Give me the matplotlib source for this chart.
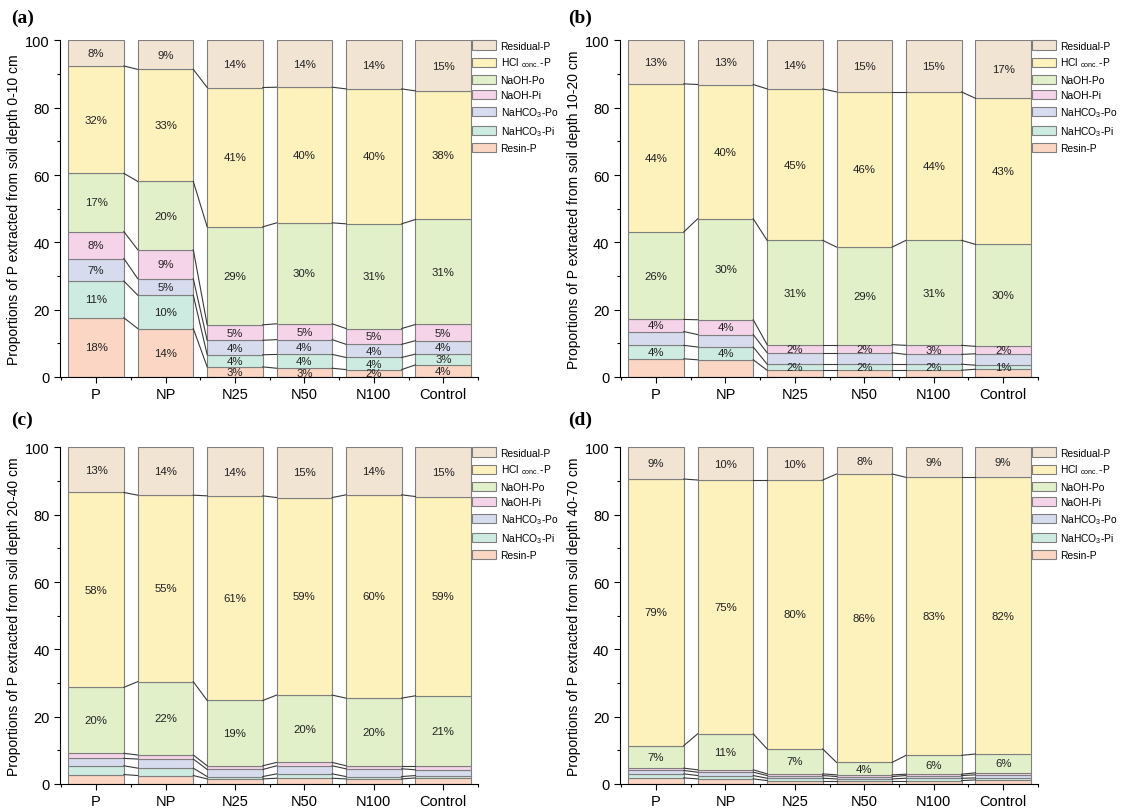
import numpy as np
import matplotlib
matplotlib.use('Agg')
import matplotlib.pyplot as plt
from matplotlib.patches import Patch
from matplotlib.ticker import MultipleLocator, FixedLocator

plt.rcParams['font.family'] = ['Liberation Sans', 'DejaVu Sans']
plt.rcParams['mathtext.fontset'] = 'custom'
plt.rcParams['mathtext.rm'] = 'Liberation Sans'
plt.rcParams['mathtext.default'] = 'regular'

categories = ['P', 'NP', 'N25', 'N50', 'N100', 'Control']
fractions = ['Resin-P', r'NaHCO$_3$-Pi', r'NaHCO$_3$-Po', 'NaOH-Pi', 'NaOH-Po',
             r'HCl $_{conc.}$-P', 'Residual-P']
colors = ['#fcd6c4', '#cdebe0', '#d6dcee', '#f5d3e8', '#e2f0c9', '#fdf1bc', '#f2e4d3']

# rows: Resin-P, NaHCO3-Pi, NaHCO3-Po, NaOH-Pi, NaOH-Po, HCl-P, Residual-P (%)
depth_0_10 = [
    [17.6, 14.4, 3.0, 2.6, 2.2, 3.6],
    [10.9, 9.9, 3.6, 4.1, 3.6, 3.2],
    [6.7, 4.9, 4.3, 4.4, 3.9, 4.0],
    [8.0, 8.6, 4.6, 4.7, 4.7, 4.8],
    [17.3, 20.3, 29.1, 30.0, 31.1, 31.2],
    [31.9, 33.3, 41.4, 40.3, 40.1, 38.2],
    [7.6, 8.6, 14.0, 13.9, 14.4, 15.0],
]
depth_10_20 = [
    [5.4, 5.1, 2.0, 2.0, 2.0, 2.3],
    [4.0, 3.8, 1.8, 1.8, 1.8, 1.2],
    [4.1, 3.7, 3.4, 3.4, 2.9, 3.4],
    [3.6, 4.4, 2.4, 2.4, 2.7, 2.2],
    [26.0, 30.0, 31.0, 29.0, 31.2, 30.3],
    [44.0, 39.9, 45.0, 46.1, 44.1, 43.4],
    [12.9, 13.1, 14.4, 15.3, 15.3, 17.2],
]
depth_20_40 = [
    [2.8, 2.5, 1.5, 1.7, 1.5, 1.8],
    [2.6, 2.2, 0.7, 1.3, 0.7, 0.7],
    [2.2, 2.7, 2.1, 2.4, 2.3, 1.7],
    [1.5, 1.2, 1.1, 1.0, 0.9, 1.2],
    [19.6, 21.8, 19.4, 20.0, 20.1, 20.8],
    [57.9, 55.4, 60.8, 58.7, 60.4, 59.2],
    [13.4, 14.2, 14.4, 14.9, 14.1, 14.6],
]
depth_40_70 = [
    [1.8, 1.5, 1.0, 1.0, 1.0, 1.2],
    [1.2, 1.0, 0.7, 0.5, 0.7, 0.6],
    [1.0, 1.0, 0.8, 0.7, 0.8, 0.9],
    [0.7, 0.7, 0.5, 0.5, 0.4, 0.6],
    [6.7, 10.7, 7.4, 3.7, 5.6, 5.6],
    [79.2, 75.4, 79.9, 85.7, 82.6, 82.2],
    [9.4, 9.7, 9.7, 7.9, 8.9, 8.9],
]

panels = [
    ('(a)', '0-10 cm', depth_0_10, [0, 1, 2, 3, 4, 5, 6]),
    ('(b)', '10-20 cm', depth_10_20, [1, 3, 4, 5, 6]),
    ('(c)', '20-40 cm', depth_20_40, [4, 5, 6]),
    ('(d)', '40-70 cm', depth_40_70, [4, 5, 6]),
]
positions = [(0.0535, 0.5345), (0.553, 0.5345), (0.0535, 0.0333), (0.553, 0.0333)]
letter_pos = [(0.010, 0.988), (0.507, 0.988), (0.010, 0.493), (0.507, 0.493)]

fig = plt.figure(figsize=(11.21, 8.12), dpi=100)
x = np.arange(len(categories))
w = 0.8

for (letter, depth, data, labelled), (l, b), (lx, ly) in zip(panels, positions, letter_pos):
    ax = fig.add_axes([l, b, 0.3729, 0.4145])
    data = np.array(data)
    bottoms = np.zeros(len(categories))
    tops = []
    for k in range(len(fractions)):
        ax.bar(x, data[k], w, bottom=bottoms, color=colors[k], edgecolor='#7f7f7f',
               linewidth=0.8, zorder=2)
        if k in labelled:
            for i in range(len(categories)):
                ax.text(x[i], bottoms[i] + data[k][i] / 2, f'{data[k][i]:.0f}%',
                        ha='center', va='center', fontsize=8.2, color='#222222', zorder=4)
        bottoms = bottoms + data[k]
        tops.append(bottoms.copy())
    # connecting lines between neighbouring bars
    for k in range(len(fractions) - 1):
        for i in range(len(categories) - 1):
            ax.plot([x[i] + w / 2, x[i + 1] - w / 2], [tops[k][i], tops[k][i + 1]],
                    color='#3a3a3a', linewidth=0.8, zorder=3)

    ax.set_xlim(-0.52, 5.5)
    ax.set_ylim(0, 100)
    ax.set_xticks(x)
    ax.set_xticklabels(categories, fontsize=10.5)
    ax.xaxis.set_minor_locator(FixedLocator(np.arange(-0.5, 6, 1)))
    ax.yaxis.set_major_locator(MultipleLocator(20))
    ax.yaxis.set_minor_locator(MultipleLocator(10))
    ax.tick_params(axis='y', labelsize=10.5)
    ax.tick_params(which='major', length=4, width=0.8)
    ax.tick_params(which='minor', length=2.5, width=0.8)
    for s in ['top', 'right']:
        ax.spines[s].set_visible(False)
    ax.set_ylabel('Proportions of P extracted from soil depth ' + depth, fontsize=10, labelpad=3)

    handles = [Patch(facecolor=colors[k], edgecolor='#7f7f7f', linewidth=0.8, label=fractions[k])
               for k in range(len(fractions) - 1, -1, -1)]
    ax.legend(handles=handles, loc='upper left', bbox_to_anchor=(0.985, 1.0), frameon=False,
              fontsize=7.4, handlelength=2.4, handleheight=1.0, labelspacing=0.5,
              handletextpad=0.4, borderaxespad=0, borderpad=0)

    fig.text(lx, ly, letter, ha='left', va='top', fontsize=14, fontweight='bold',
             family='Liberation Serif')

fig.savefig('out.png', dpi=100)
